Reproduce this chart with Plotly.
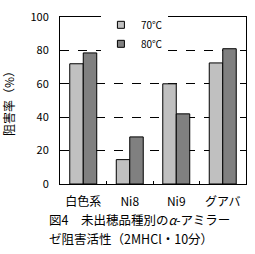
import plotly.graph_objects as go

categories = ["白色系", "Ni8", "Ni9", "グアバ"]
series_names = ["70℃", "80℃"]
values_70 = [72, 14.6, 60, 72.5]
values_80 = [78.5, 28.2, 42, 81]
y_ticks = [0, 20, 40, 60, 80, 100]

FONT = "Noto Sans CJK JP"
colors = ["#C0C0C0", "#808080"]

fig = go.Figure()
for name, vals, col in zip(series_names, [values_70, values_80], colors):
    fig.add_trace(go.Bar(x=categories, y=vals, name=name, marker=dict(color=col, line=dict(color="black", width=1)),
                         showlegend=False))
# legend entries
for name, col in zip(series_names, colors):
    fig.add_trace(go.Scatter(x=[None], y=[None], mode="markers", name=name,
                             marker=dict(symbol="square", size=7, color=col, line=dict(color="black", width=1))))

fig.update_layout(
    width=255, height=254,
    margin=dict(l=51, r=9, t=8, b=70),
    paper_bgcolor="white", plot_bgcolor="white",
    barmode="group", bargap=0.42, bargroupgap=0,
    font=dict(family=FONT, size=11, color="black"),
    legend=dict(x=0.22, y=1.04, xanchor="left", yanchor="top", bgcolor="white",
                font=dict(size=10), itemwidth=30, tracegroupgap=0),
    xaxis=dict(showline=True, linecolor="black", linewidth=1, mirror=True,
               ticks="inside", ticklen=3, tickcolor="black", tickson="boundaries",
               tickfont=dict(size=12), ticklabelstandoff=7),
    yaxis=dict(range=[0, 100], tickvals=y_ticks, showline=True, linecolor="black", linewidth=1, mirror=True,
               showgrid=True, gridcolor="black", griddash="dash", gridwidth=1,
               ticks="", tickfont=dict(size=11), zeroline=False, ticklabelstandoff=8,
               ticklabeloverflow="allow",
               title=dict(text="阻害率（%）", font=dict(size=12), standoff=14)),
)
fig.add_annotation(text="図4　未出穂品種別の<i>α</i>-アミラー",
                   xref="paper", yref="paper", align="left",
                   x=-0.065, y=-0.21, xanchor="left", yanchor="middle", showarrow=False,
                   font=dict(size=12.5, family=FONT), borderpad=0)
fig.add_annotation(text="ゼ阻害活性（2MHCl・10分）",
                   xref="paper", yref="paper", align="left",
                   x=-0.065, y=-0.324, xanchor="left", yanchor="middle", showarrow=False,
                   font=dict(size=12.5, family=FONT), borderpad=0)
fig.write_html("out.html")
